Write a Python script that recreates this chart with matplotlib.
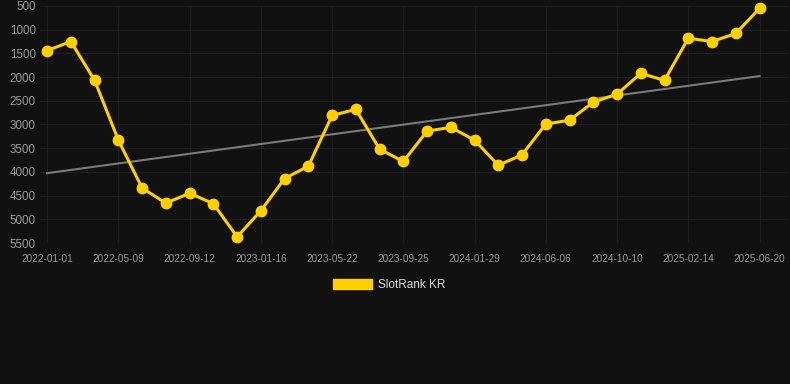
import matplotlib
matplotlib.use("Agg")
import matplotlib.pyplot as plt
import matplotlib.patches as mpatches
import numpy as np

# SlotRank KR position over time (lower is better, axis is inverted)
tick_labels = ['2022-01-01', '2022-05-09', '2022-09-12', '2023-01-16',
               '2023-05-22', '2023-09-25', '2024-01-29', '2024-06-06',
               '2024-10-10', '2025-02-14', '2025-06-20']
rank = [1440, 1250, 2070, 3330, 4340, 4660, 4450, 4670, 5370, 4820,
        4140, 3880, 2810, 2680, 3520, 3780, 3140, 3060, 3330, 3860,
        3640, 2990, 2910, 2530, 2360, 1920, 2070, 1180, 1250, 1080,
        550]
y_ticks = [500, 1000, 1500, 2000, 2500, 3000, 3500, 4000, 4500, 5000, 5500]

bg = '#111111'
yellow = '#ffd000'

x = np.arange(len(rank))

fig = plt.figure(figsize=(7.9, 3.84), dpi=100, facecolor=bg)
ax = fig.add_axes([40 / 790, (384 - 243) / 384, 748 / 790, 237 / 384])
ax.set_facecolor(bg)

# linear trend
coef = np.polyfit(x, rank, 1)
ax.plot([x[0], x[-1]], np.polyval(coef, [x[0], x[-1]]), color='#7a7a7a',
        lw=1.5, zorder=2)

ax.plot(x, rank, color=yellow, lw=2.2, marker='o', markersize=7.5,
        zorder=3, clip_on=False)

ax.set_ylim(5500, 500)
ax.set_xlim(-0.3, 31.2)
ax.set_yticks(y_ticks)
ax.set_xticks(x[::3])
ax.set_xticklabels(tick_labels)

ax.grid(True, color='#1f1f1f', lw=0.8)
ax.set_axisbelow(True)
for s in ax.spines.values():
    s.set_visible(False)
ax.axhline(5500, color='#2c2c2c', lw=0.8, zorder=1)

ax.tick_params(axis='y', length=0, pad=3, labelsize=8.4, labelcolor='#999999')
ax.tick_params(axis='x', length=0, pad=8, labelsize=7.2, labelcolor='#999999')
for lab in ax.get_xticklabels() + ax.get_yticklabels():
    lab.set_family('Liberation Sans')

handle = mpatches.Patch(color=yellow, label='SlotRank KR')
leg = fig.legend(handles=[handle], loc='center', bbox_to_anchor=(389 / 790, 1 - 285 / 384),
                 frameon=False, handlelength=3.3, handleheight=0.9,
                 handletextpad=0.5,
                 prop={'family': 'Liberation Sans', 'size': 8.5})
for t in leg.get_texts():
    t.set_color('#dddddd')

fig.savefig('out.png', dpi=100, facecolor=bg)
